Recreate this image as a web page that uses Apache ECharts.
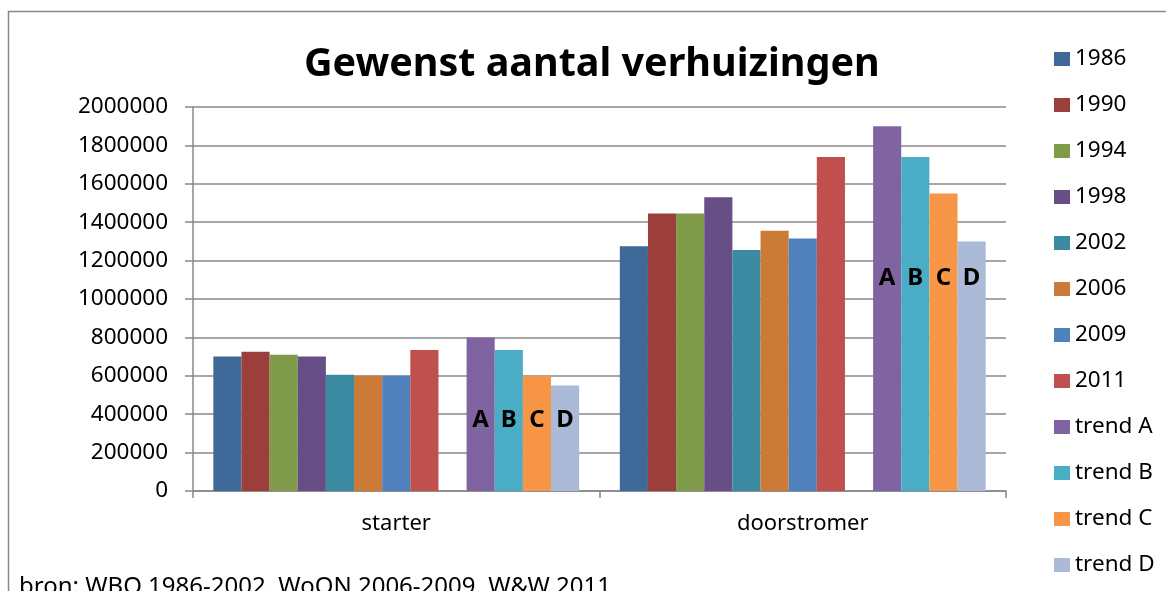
<!DOCTYPE html>
<html>
<head>
<meta charset="utf-8">
<script src="https://cdn.jsdelivr.net/npm/echarts@6/dist/echarts.min.js"></script>
<style>
  html, body { margin: 0; padding: 0; background: #fff; }
  #main { width: 1166px; height: 591px; }
</style>
</head>
<body>
<div id="main"></div>
<script>
// categorieen
var categories = ['starter', 'doorstromer'];

// waarden per jaar / trend (starter, doorstromer)
var v1986 = [700000, 1275000];
var v1990 = [725000, 1445000];
var v1994 = [710000, 1445000];
var v1998 = [700000, 1530000];
var v2002 = [605000, 1255000];
var v2006 = [600000, 1355000];
var v2009 = [600000, 1315000];
var v2011 = [735000, 1740000];
var trendA = [800000, 1900000];
var trendB = [735000, 1740000];
var trendC = [600000, 1550000];
var trendD = [550000, 1300000];

// hoogte van de letters A B C D per categorie
var letterLevel = [370000, 1110000];

var yearNames = ['1986', '1990', '1994', '1998', '2002', '2006', '2009', '2011'];
var yearData = [v1986, v1990, v1994, v1998, v2002, v2006, v2009, v2011];
var yearColors = ['#3E6999', '#9C3F3C', '#7F9A48', '#684E86', '#3A8AA1', '#CB7A37', '#4F81BD', '#C0504D'];

var trendNames = ['trend A', 'trend B', 'trend C', 'trend D'];
var trendLetters = ['A', 'B', 'C', 'D'];
var trendData = [trendA, trendB, trendC, trendD];
var trendColors = ['#8064A2', '#4BACC6', '#F79646', '#AABAD7'];

var font = 'Noto Sans';
var chart = echarts.init(document.getElementById('main'));

var series = [];
for (var i = 0; i < yearNames.length; i++) {
    series.push({
        name: yearNames[i],
        type: 'bar',
        barGap: 0,
        barCategoryGap: '10%',
        itemStyle: {color: yearColors[i]},
        data: yearData[i]
    });
}
// lege reeks als tussenruimte
series.push({
    name: '',
    type: 'bar',
    data: [null, null]
});
for (var j = 0; j < trendNames.length; j++) {
    series.push({
        name: trendNames[j],
        type: 'bar',
        itemStyle: {color: trendColors[j]},
        data: trendData[j],
        markPoint: {
            symbol: 'circle',
            symbolSize: 1,
            itemStyle: {color: 'rgba(0,0,0,0)'},
            label: {
                show: true,
                position: 'inside',
                formatter: trendLetters[j],
                color: '#000',
                fontFamily: font,
                fontWeight: 'bold',
                fontSize: 24
            },
            data: [
                {coord: [0, letterLevel[0]]},
                {coord: [1, letterLevel[1]]}
            ]
        }
    });
}

var option = {
    backgroundColor: '#fff',
    animation: false,
    title: [
        {
            text: 'Gewenst aantal verhuizingen',
            left: 299,
            top: 40,
            textStyle: {fontFamily: font, fontWeight: 'bold', fontSize: 39.5, color: '#000'}
        },
        {
            text: 'bron: WBO 1986-2002. WoON 2006-2009. W&W 2011',
            left: 14,
            top: 570,
            textStyle: {fontFamily: font, fontWeight: 'normal', fontSize: 24, color: '#000'}
        }
    ],
    legend: {
        orient: 'vertical',
        left: 1049,
        top: 42,
        itemWidth: 16,
        itemHeight: 14,
        itemGap: 22,
        icon: 'rect',
        data: yearNames.concat(trendNames),
        textStyle: {fontFamily: font, fontSize: 22.5, color: '#000', lineHeight: 24}
    },
    grid: {left: 193, right: 160, top: 107, bottom: 100},
    xAxis: {
        type: 'category',
        data: categories,
        axisLine: {lineStyle: {color: '#888', width: 1.5}},
        axisTick: {show: true, length: 7, lineStyle: {color: '#888', width: 1.5}},
        axisLabel: {fontFamily: font, fontSize: 22, color: '#000', margin: 22}
    },
    yAxis: {
        type: 'value',
        min: 0,
        max: 2000000,
        interval: 200000,
        axisLine: {show: true, lineStyle: {color: '#888', width: 1.5}},
        axisTick: {show: true, length: 8, lineStyle: {color: '#888', width: 1.5}},
        splitLine: {lineStyle: {color: '#888', width: 1.5}},
        axisLabel: {
            fontFamily: font, fontSize: 22.5, color: '#000', margin: 25,
            formatter: function (v) { return String(v); }
        }
    },
    graphic: [{
        type: 'rect',
        shape: {x: 8.5, y: 11.5, width: 1400, height: 1000},
        style: {fill: 'none', stroke: '#888', lineWidth: 1.5},
        silent: true
    }],
    series: series
};
chart.setOption(option);
</script>
</body>
</html>
